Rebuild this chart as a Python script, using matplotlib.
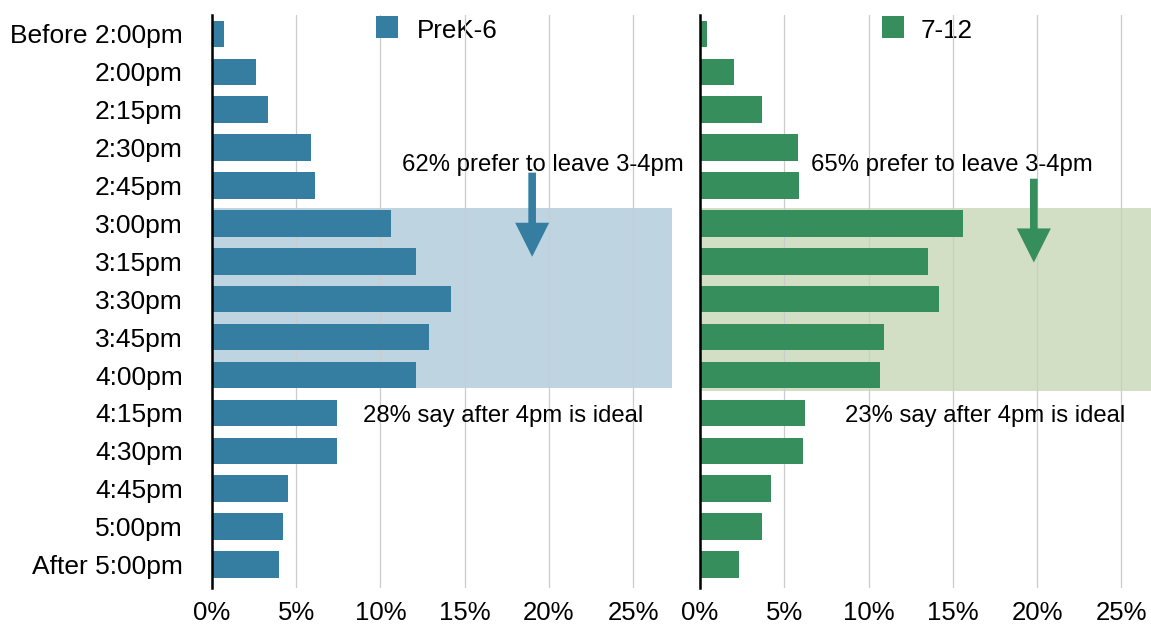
import numpy as np
import matplotlib
matplotlib.use("Agg")
import matplotlib.pyplot as plt
from matplotlib.patches import Rectangle

plt.rcParams['font.family'] = ['Liberation Sans', 'DejaVu Sans']

# departure times and share of responses (%)
times = ['Before 2:00pm', '2:00pm', '2:15pm', '2:30pm', '2:45pm', '3:00pm', '3:15pm',
         '3:30pm', '3:45pm', '4:00pm', '4:15pm', '4:30pm', '4:45pm', '5:00pm', 'After 5:00pm']
prek6 = [0.7, 2.6, 3.3, 5.9, 6.1, 10.6, 12.1, 14.2, 12.9, 12.1, 7.4, 7.4, 4.5, 4.2, 4.0]
grade712 = [0.4, 2.0, 3.7, 5.8, 5.9, 15.6, 13.5, 14.2, 10.9, 10.7, 6.2, 6.1, 4.2, 3.7, 2.3]
xticks = [0, 5, 10, 15, 20, 25]

blue = '#367ea1'
green = '#368e5d'
blue_shade = '#bed4e0'
green_shade = '#d2dfc4'

fig = plt.figure(figsize=(11.51, 6.24), dpi=100)
ax1 = fig.add_axes([212 / 1151, 1 - 588 / 624, 460 / 1151, 573 / 624])
ax2 = fig.add_axes([700 / 1151, 1 - 588 / 624, 451 / 1151, 573 / 624])

y = np.arange(len(times))

panels = [
    (ax1, prek6, blue, blue_shade, 'PreK-6', 27.3, 9.35,
     '62% prefer to leave 3-4pm', 11.3, 19.0, 3.66, 5.88,
     '28% say after 4pm is ideal', 8.95, 0.3565, 0.0478, 0.445),
    (ax2, grade712, green, green_shade, '7-12', 26.75, 9.42,
     '65% prefer to leave 3-4pm', 6.6, 19.8, 3.82, 6.03,
     '23% say after 4pm is ideal', 8.6, 0.4035, 0.0488, 0.4894),
]

for (ax, vals, col, shade, name, xmax, shade_bot,
     top_txt, top_x, arr_x, arr_y0, arr_y1, bot_txt, bot_x, leg_x, leg_w, leg_tx) in panels:
    ax.axhspan(4.6, shade_bot, xmin=0, xmax=1, color=shade, lw=0, zorder=0)
    for t in xticks:
        ax.axvline(t, color='#cccccc', lw=0.9, zorder=1)
    ax.barh(y, vals, height=0.7, color=col, zorder=2)
    ax.set_xlim(0, xmax)
    ax.set_ylim(14.62, -0.5)
    ax.set_xticks(xticks)
    ax.set_xticklabels([f'{t}%' for t in xticks], fontsize=18.5)
    ax.tick_params(axis='x', length=0, pad=9)
    ax.tick_params(axis='y', length=0, pad=21)
    for s in ['top', 'right', 'bottom']:
        ax.spines[s].set_visible(False)
    ax.spines['left'].set_linewidth(1.8)
    ax.spines['left'].set_zorder(5)

    ax.text(top_x, 3.45, top_txt, fontsize=17.2, ha='left', va='center', zorder=4)
    ax.text(bot_x, 10.08, bot_txt, fontsize=17.2, ha='left', va='center', zorder=4)
    ax.annotate('', xy=(arr_x, arr_y1), xytext=(arr_x, arr_y0),
                arrowprops=dict(arrowstyle='simple,head_length=24.5,head_width=24.5,tail_width=5.5',
                                mutation_scale=1, color=col, shrinkA=0, shrinkB=0, lw=0),
                zorder=4)

    # legend key: square + label (gridlines pass over the label like in the original)
    ax.add_patch(Rectangle((leg_x, 0.9599), leg_w, 0.0384, transform=ax.transAxes,
                           color=col, lw=0, clip_on=False, zorder=1.5))
    ax.text(leg_tx, 0.9599, name, transform=ax.transAxes, fontsize=18.7,
            ha='left', va='baseline', zorder=0.5)

ax1.set_yticks(y)
ax1.set_yticklabels(times, fontsize=19)
ax2.set_yticks([])

fig.savefig('out.png', dpi=100)
